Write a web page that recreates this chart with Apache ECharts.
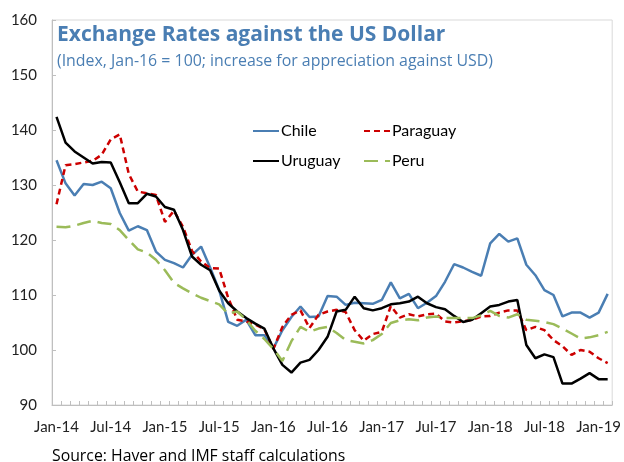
<!DOCTYPE html>
<html>
<head>
<meta charset="utf-8">
<script src="https://cdn.jsdelivr.net/npm/echarts@6/dist/echarts.min.js"></script>
<style>
  html, body { margin: 0; padding: 0; background: #fff; }
  #chart { width: 624px; height: 462px; }
</style>
</head>
<body>
<div id="chart"></div>
<script>
// months Jan-14 .. Feb-19
var monthNames = ['Jan','Feb','Mar','Apr','May','Jun','Jul','Aug','Sep','Oct','Nov','Dec'];
var categories = [];
for (var k = 0; k < 62; k++) {
    categories.push(monthNames[k % 12] + '-' + (14 + Math.floor(k / 12)));
}

var yTicks = [90, 100, 110, 120, 130, 140, 150, 160];

var chile = [134.5,130.3,128.1,130.2,130.0,130.6,129.4,124.9,121.7,122.5,121.8,117.9,116.4,115.8,115.0,117.3,
    118.8,115.0,110.9,105.1,104.4,105.5,102.7,102.7,100.3,103.6,106.0,107.9,106.0,106.1,109.8,109.7,
    108.2,108.6,108.5,108.4,109.1,112.3,109.4,110.2,107.6,108.6,109.8,112.4,115.6,115.0,114.2,113.5,
    119.4,121.1,119.7,120.3,115.5,113.6,110.9,110.0,106.1,106.8,106.8,105.9,106.8,110.2];

var paraguay = [126.5,133.6,133.8,134.1,134.4,135.5,138.3,139.2,132.0,128.8,128.5,128.2,123.3,125.3,122.4,118.0,
    116.1,114.9,114.8,109.5,105.5,105.2,104.6,103.8,100.2,104.2,106.4,107.2,104.0,106.4,107.0,107.3,
    106.9,103.6,101.7,102.9,103.3,108.0,105.9,106.5,106.1,106.5,106.6,105.2,105.0,105.2,105.5,106.1,
    106.2,106.8,107.2,107.2,103.6,104.2,103.6,101.8,100.7,99.1,100.0,99.7,98.5,97.6];

var uruguay = [142.4,137.7,136.1,135.0,133.9,134.2,134.1,130.5,126.7,126.7,128.4,127.9,126.0,125.5,121.8,117.0,
    115.5,114.5,110.8,108.5,107.0,105.8,104.8,103.9,100.3,97.3,95.9,97.7,98.2,100.0,102.4,107.0,
    107.3,109.7,107.6,107.2,107.6,108.3,108.5,108.8,109.7,108.5,107.8,107.4,106.2,105.1,105.5,106.7,
    107.9,108.2,108.8,109.1,100.9,98.5,99.2,98.7,93.9,93.9,94.8,95.8,94.7,94.7];

var peru = [122.4,122.3,122.6,123.1,123.5,123.1,122.9,121.8,120.0,118.3,117.7,116.4,114.5,112.2,111.2,110.3,
    109.5,108.9,108.3,106.6,107.0,105.5,103.5,102.0,100.2,98.0,101.6,104.2,103.3,103.9,104.2,103.1,
    101.8,101.5,101.2,101.8,102.9,104.9,105.4,105.6,105.4,105.9,106.1,105.8,105.8,105.8,105.8,106.3,
    107.1,106.2,105.9,106.5,105.5,105.3,105.1,104.7,103.9,103.0,102.1,102.3,102.7,103.3];

var font = 'Lato, "Noto Sans", sans-serif';
var font2 = '"Open Sans", "Noto Sans", sans-serif';
var blue = '#4a7eb3';

var chart = echarts.init(document.getElementById('chart'), null, { renderer: 'canvas' });

function oneLegend(name, x, y) {
    return {
        data: [name],
        left: x,
        top: y,
        padding: 0,
        itemWidth: 26,
        itemHeight: 14,
        itemGap: 0,
        selectedMode: false,
        itemStyle: { opacity: 0 },
        textStyle: { fontFamily: font, fontSize: 16, color: '#000', padding: [0, 0, 0, -3] }
    };
}

var option = {
    animation: false,
    backgroundColor: '#fff',
    title: [{
        text: 'Exchange Rates against the US Dollar',
        left: 57,
        top: 25,
        padding: 0,
        textStyle: { fontFamily: font2, fontSize: 21, fontWeight: 'bold', color: blue }
    }, {
        text: '(Index, Jan-16 = 100; increase for appreciation against USD)',
        left: 57,
        top: 53,
        padding: 0,
        textStyle: { fontFamily: font2, fontSize: 15.9, fontWeight: 'normal', color: blue }
    }, {
        text: 'Source: Haver and IMF staff calculations',
        left: 52,
        top: 448,
        padding: 0,
        textStyle: { fontFamily: font2, fontSize: 15.8, fontWeight: 'normal', color: '#000' }
    }],
    legend: [
        oneLegend('Chile', 252, 123),
        oneLegend('Paraguay', 363, 123),
        oneLegend('Uruguay', 252, 153),
        oneLegend('Peru', 363, 153)
    ],
    grid: {
        left: 52, right: 6, top: 20, bottom: 57,
        show: true, borderColor: '#d9d9d9', borderWidth: 1
    },
    xAxis: {
        type: 'category',
        data: categories,
        boundaryGap: true,
        axisLine: { lineStyle: { color: '#bfbfbf', width: 1 } },
        axisTick: { show: true, inside: true, length: 4, interval: 0, lineStyle: { color: '#bfbfbf' } },
        axisLabel: { interval: 5, margin: 15, fontFamily: font, fontSize: 15, color: '#222' },
        splitLine: { show: false }
    },
    yAxis: {
        type: 'value',
        min: yTicks[0],
        max: yTicks[yTicks.length - 1],
        interval: 10,
        axisLine: { show: true, lineStyle: { color: '#bfbfbf', width: 1 } },
        axisTick: { show: true, inside: true, length: 4, lineStyle: { color: '#bfbfbf' } },
        axisLabel: { margin: 15, fontFamily: font, fontSize: 15, color: '#222' },
        splitLine: { show: false }
    },
    series: [{
        name: 'Chile', type: 'line', data: chile, symbol: 'none',
        lineStyle: { color: blue, width: 2.5 }, itemStyle: { color: blue }
    }, {
        name: 'Paraguay', type: 'line', data: paraguay, symbol: 'none',
        lineStyle: { color: '#cc0000', width: 2.5, type: [6, 4] }, itemStyle: { color: '#cc0000' }
    }, {
        name: 'Uruguay', type: 'line', data: uruguay, symbol: 'none',
        lineStyle: { color: '#000', width: 2.5 }, itemStyle: { color: '#000' }
    }, {
        name: 'Peru', type: 'line', data: peru, symbol: 'none',
        lineStyle: { color: '#9bbb59', width: 2.5, type: [14, 7] }, itemStyle: { color: '#9bbb59' }
    }]
};

chart.setOption(option);
</script>
</body>
</html>
